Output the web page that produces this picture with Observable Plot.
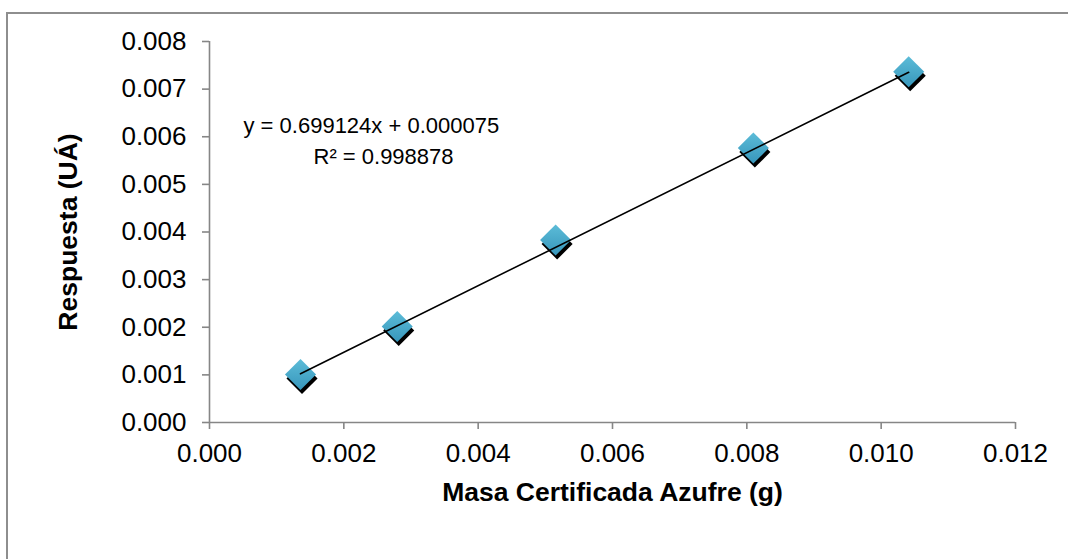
<!DOCTYPE html>
<html>
<head>
<meta charset="utf-8">
<script src="https://cdn.jsdelivr.net/npm/d3@7"></script>
<script src="https://cdn.jsdelivr.net/npm/@observablehq/plot@0.6"></script>
<style>
  html, body { margin: 0; padding: 0; background: #fff; overflow: hidden; }
  #wrap { position: relative; width: 1068px; height: 559px; overflow: hidden; }
  #border { position: absolute; left: 6px; top: 12px; width: 1120px; height: 620px; border: 2px solid #8e8e8e; box-sizing: border-box; pointer-events: none; }
  #chart { position: absolute; left: 0; top: 0; }
  g[aria-label="y-axis tick"] path, g[aria-label="x-axis tick"] path { stroke: #868686; stroke-width: 1.6; }
</style>
</head>
<body>
<div id="wrap"><div id="chart"></div><div id="border"></div></div>
<script>
// Data
const masa = [0.001355, 0.002795, 0.005153, 0.008097, 0.01041];      // Masa Certificada Azufre (g)
const respuesta = [0.001007, 0.002014, 0.003833, 0.005764, 0.007365]; // Respuesta (UÁ)
const slope = 0.699124;
const intercept = 0.000075;
const xTicks = [0, 0.002, 0.004, 0.006, 0.008, 0.010, 0.012];
const yTicks = [0, 0.001, 0.002, 0.003, 0.004, 0.005, 0.006, 0.007, 0.008];
const xTitle = "Masa Certificada Azufre (g)";
const yTitle = "Respuesta (UÁ)";
const eqLine1 = "y = 0.699124x + 0.000075";
const eqLine2 = "R² = 0.998878";

const points = masa.map((m, i) => ({x: m, y: respuesta[i]}));
const xmin = d3.min(masa), xmax = d3.max(masa);
const trend = [xmin, xmax].map(x => ({x, y: slope * x + intercept}));
const fmt = d3.format(".3f");

const chart = Plot.plot({
  width: 1068,
  height: 559,
  marginLeft: 209,
  marginRight: 53,
  marginTop: 41,
  marginBottom: 137,
  style: {fontFamily: "'Liberation Sans', Arial, sans-serif", fontSize: "26px", background: "transparent", color: "black"},
  x: {domain: [0, 0.012]},
  y: {domain: [0, 0.008]},
  marks: [
    Plot.ruleY([0], {x1: 0, x2: 0.012, stroke: "#868686", strokeWidth: 1.6}),
    Plot.ruleX([0], {y1: 0, y2: 0.008, stroke: "#868686", strokeWidth: 1.6}),
    Plot.axisX({ticks: xTicks, tickFormat: fmt, tickSize: 7, tickPadding: 14, label: null, fontSize: 26}),
    Plot.axisY({ticks: yTicks, tickFormat: fmt, tickSize: 7, tickPadding: 16, label: null, fontSize: 26}),
    Plot.dot(points, {x: "x", y: "y", symbol: "diamond2", r: 14, fill: "black", dx: 1.5, dy: 4, ariaLabel: "shadow"}),
    Plot.dot(points, {x: "x", y: "y", symbol: "diamond2", r: 14, fill: "url(#mgrad)", ariaLabel: "markers"}),
    Plot.line(trend, {x: "x", y: "y", stroke: "black", strokeWidth: 1.6}),
    Plot.text([eqLine1], {text: d => d, frameAnchor: "top-left", dx: 34, dy: 76, textAnchor: "start", fontSize: 22}),
    Plot.text([eqLine2], {text: d => d, frameAnchor: "top-left", dx: 104, dy: 107, textAnchor: "start", fontSize: 22}),
    Plot.text([xTitle], {text: d => d, frameAnchor: "bottom", dy: 78, fontWeight: "bold", fontSize: 26.5}),
    Plot.text([yTitle], {text: d => d, frameAnchor: "left", textAnchor: "middle", dx: -141, rotate: -90, fontWeight: "bold", fontSize: 26.5})
  ]
});

const svg = d3.select(chart);
const defs = svg.insert("defs", ":first-child");
const f = defs.append("filter").attr("id", "blur").attr("x", "-50%").attr("y", "-50%").attr("width", "200%").attr("height", "200%");
f.append("feGaussianBlur").attr("stdDeviation", 3);
const g = defs.append("linearGradient").attr("id", "mgrad").attr("x1", 0).attr("y1", 0).attr("x2", 0).attr("y2", 1);
g.append("stop").attr("offset", "0%").attr("stop-color", "#5cbcd8");
g.append("stop").attr("offset", "100%").attr("stop-color", "#3796bb");
svg.select('g[aria-label="shadow"]').attr("filter", "url(#blur)");
svg.selectAll('g[aria-label="markers"] path').attr("stroke", "#4aa6c6").attr("stroke-width", 0.5);

document.getElementById("chart").appendChild(chart);
</script>
</body>
</html>
